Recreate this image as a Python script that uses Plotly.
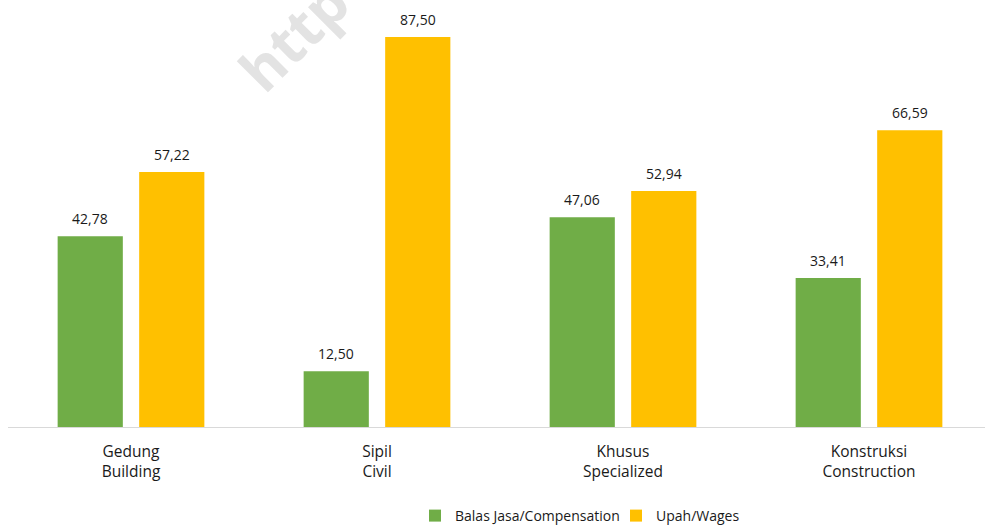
import plotly.graph_objects as go

categories = ["Gedung<br>Building", "Sipil<br>Civil", "Khusus<br>Specialized", "Konstruksi<br>Construction"]
compensation = [42.78, 12.50, 47.06, 33.41]
wages = [57.22, 87.50, 52.94, 66.59]
series_names = ["Balas Jasa/Compensation", "Upah/Wages"]
colors = ["#70AD47", "#FFC000"]

W, H = 985, 525
ml, mr, mt, mb = 8, 0, 0, 98
plot_w = W - ml - mr
plot_h = H - mt - mb
cat_px = 246.0
x_range = [-0.5, -0.5 + plot_w / cat_px]
y_range = [0, 95.8]

bar_w = 0.265
shift = 0.1657
xs = list(range(len(categories)))

fig = go.Figure()
for vals, name, col, sgn, leg in [(compensation, series_names[0], colors[0], -1, "legend"),
                                  (wages, series_names[1], colors[1], 1, "legend2")]:
    fig.add_trace(go.Bar(
        x=xs, y=vals, name=name, marker=dict(color=col, line=dict(width=0)),
        width=bar_w, offset=sgn * shift - bar_w / 2,
        hoverinfo="skip", legend=leg,
    ))
    for xi, v in zip(xs, vals):
        fig.add_annotation(
            x=xi + sgn * shift, y=v, xref="x", yref="y",
            text=f"{v:.2f}".replace(".", ","), showarrow=False,
            yanchor="bottom", yshift=6,
            font=dict(family="Open Sans", size=14, color="#1a1a1a"),
        )

# watermark
fig.add_annotation(
    x=(293 - ml) / plot_w, y=(plot_h - 36) / plot_h, xref="paper", yref="paper",
    text="<b>http</b>", showarrow=False, textangle=-45,
    font=dict(family="Open Sans", size=58, color="#E3E3E3"),
    xanchor="center", yanchor="middle",
)

legend_common = dict(orientation="h", yref="container", y=1 - 516 / H,
                     xanchor="left", yanchor="middle",
                     bgcolor="rgba(0,0,0,0)", borderwidth=0,
                     font=dict(family="Open Sans", size=14, color="#1a1a1a"))

fig.update_layout(
    width=W, height=H,
    margin=dict(l=ml, r=mr, t=mt, b=mb, pad=0),
    paper_bgcolor="white", plot_bgcolor="white",
    barmode="overlay",
    showlegend=True,
    legend=dict(x=(415 - ml) / plot_w, **legend_common),
    legend2=dict(x=(616 - ml) / plot_w, **legend_common),
    xaxis=dict(range=x_range, tickvals=xs, ticktext=categories,
               showgrid=False, zeroline=False, showline=True,
               linecolor="#D9D9D9", linewidth=1, ticks="",
               ticklabelstandoff=10,
               tickfont=dict(family="Open Sans", size=15.5, color="#1a1a1a")),
    yaxis=dict(range=y_range, visible=False, showgrid=False, zeroline=False),
)

fig.write_html(
    "out.html",
    config={"displayModeBar": False},
    post_script="document.body.style.margin='0';document.body.style.overflow='hidden';",
)
